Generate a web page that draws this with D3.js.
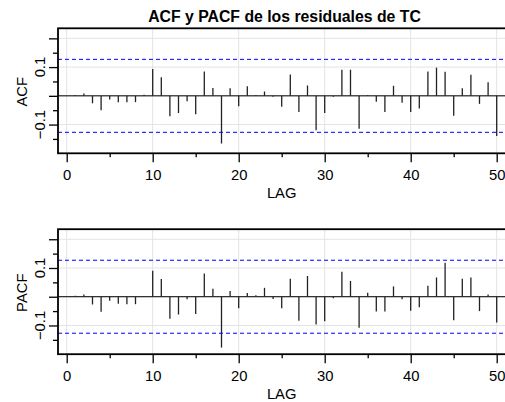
<!DOCTYPE html>
<html>
<head>
<meta charset="utf-8">
<script src="https://cdnjs.cloudflare.com/ajax/libs/d3/7.8.5/d3.min.js"></script>
<style>
body { margin: 0; background: #fff; }
svg { display: block; font-family: "Liberation Sans", Arial, Helvetica, sans-serif; }
</style>
</head>
<body>
<div id="chart"></div>
<script>
// lags 1..50
var lags = d3.range(1, 51);
var acfVals = [0.003, 0.008, -0.026, -0.05, -0.013, -0.022, -0.022, -0.022, 0.004, 0.093,
	0.065, -0.071, -0.06, -0.019, -0.064, 0.085, 0.027, -0.166, 0.026, -0.036,
	0.033, 0.003, 0.015, -0.003, -0.038, 0.074, -0.056, 0.036, -0.12, -0.06,
	-0.003, 0.091, 0.091, -0.115, 0.003, -0.021, -0.056, 0.035, -0.024, -0.056,
	-0.044, 0.085, 0.098, 0.084, -0.069, 0.026, 0.073, -0.028, 0.047, -0.14];
var pacfVals = [0.003, 0.008, -0.027, -0.052, -0.014, -0.024, -0.026, -0.026, 0.002, 0.09,
	0.062, -0.077, -0.062, -0.009, -0.06, 0.081, 0.028, -0.177, 0.02, -0.04,
	0.013, 0.005, 0.031, -0.008, -0.04, 0.063, -0.084, 0.072, -0.097, -0.085,
	-0.005, 0.087, 0.055, -0.108, 0.014, -0.051, -0.051, 0.036, -0.009, -0.049,
	-0.037, 0.038, 0.067, 0.118, -0.082, 0.063, 0.067, -0.05, 0.008, -0.09];
var confBand = 0.127;
var xTicks = d3.range(0, 51, 5);
var xLabels = [0, 10, 20, 30, 40, 50];
var yTicks = [-0.15, -0.1, -0.05, 0, 0.05, 0.1, 0.15, 0.2];
var yLabels = [-0.1, 0.1];
var yGrid = [-0.1, 0, 0.1, 0.2];

var W = 505, H = 402;
var left = 58, right = 510;

var svg = d3.select("#chart").append("svg")
	.attr("width", W)
	.attr("height", H);

var x = d3.scaleLinear().domain([0, 50]).range([66.7, 496.7]);

svg.append("text")
	.attr("x", 284.5)
	.attr("y", 21.5)
	.attr("text-anchor", "middle")
	.attr("font-weight", "bold")
	.attr("font-size", 15.8)
	.text("ACF y PACF de los residuales de TC");

function panel(top, vals, name){
	var bottom = top + 125;
	var y = d3.scaleLinear().domain([-0.2, 0.235]).range([bottom, top]);
	var g = svg.append("g");

	// grid
	g.selectAll(".vg").data(xLabels).enter().append("line")
		.attr("x1", function(d){ return x(d); })
		.attr("x2", function(d){ return x(d); })
		.attr("y1", top).attr("y2", bottom)
		.attr("stroke", "#e3e3e3").attr("stroke-width", 1);
	g.selectAll(".hg").data(yGrid).enter().append("line")
		.attr("x1", left).attr("x2", right)
		.attr("y1", function(d){ return y(d); })
		.attr("y2", function(d){ return y(d); })
		.attr("stroke", "#e3e3e3").attr("stroke-width", 1);

	// zero line
	g.append("line")
		.attr("x1", left).attr("x2", right)
		.attr("y1", y(0)).attr("y2", y(0))
		.attr("stroke", "#000").attr("stroke-width", 1);

	// bars
	g.selectAll(".bar").data(vals).enter().append("line")
		.attr("x1", function(d, i){ return x(lags[i]); })
		.attr("x2", function(d, i){ return x(lags[i]); })
		.attr("y1", y(0))
		.attr("y2", function(d){ return y(d); })
		.attr("stroke", "#222").attr("stroke-width", 1.3);

	// confidence bands
	[confBand, -confBand].forEach(function(c){
		g.append("line")
			.attr("x1", left).attr("x2", right)
			.attr("y1", y(c)).attr("y2", y(c))
			.attr("stroke", "#0000ff").attr("stroke-width", 1)
			.attr("stroke-dasharray", "4,3");
	});

	// frame
	g.append("rect")
		.attr("x", left).attr("y", top)
		.attr("width", right - left).attr("height", bottom - top)
		.attr("fill", "none").attr("stroke", "#000").attr("stroke-width", 1.8);

	// x axis
	var xa = g.append("g").attr("transform", "translate(0," + bottom + ")")
		.call(d3.axisBottom(x).tickValues(xTicks).tickSizeOuter(0)
			.tickFormat(function(d){ return d % 10 === 0 ? d : ""; }));
	xa.select(".domain").remove();
	xa.selectAll(".tick line")
		.attr("y2", function(d){ return d % 10 === 0 ? 9 : 4; })
		.attr("stroke", "#000").attr("stroke-width", 1.3);
	xa.selectAll(".tick text")
		.attr("y", 27).attr("dy", 0)
		.attr("font-size", 14.8)
		.attr("font-family", "Liberation Sans, Arial, sans-serif")
		.attr("fill", "#000");

	g.append("text")
		.attr("x", x(25)).attr("y", bottom + 44.5)
		.attr("text-anchor", "middle")
		.attr("font-size", 14.8)
		.text("LAG");

	// y axis
	var ya = g.append("g").attr("transform", "translate(" + left + ",0)")
		.call(d3.axisLeft(y).tickValues(yTicks).tickSizeOuter(0).tickFormat(""));
	ya.select(".domain").remove();
	ya.selectAll(".tick line")
		.attr("x2", function(d){ return Math.abs(Math.round(d * 100)) % 10 === 0 ? -9 : -5; })
		.attr("stroke", "#000").attr("stroke-width", 1.3);

	g.selectAll(".ylab").data(yLabels).enter().append("text")
		.attr("transform", function(d){ return "translate(45," + y(d) + ") rotate(-90)"; })
		.attr("text-anchor", "middle")
		.attr("font-size", 14.8)
		.text(function(d){ return d < 0 ? "\u2212" + Math.abs(d) : d; });

	g.append("text")
		.attr("transform", "translate(26.7," + ((top + bottom) / 2 + 1) + ") rotate(-90)")
		.attr("text-anchor", "middle")
		.attr("font-size", 14.8)
		.text(name);
}

panel(28.3, acfVals, "ACF");
panel(229.2, pacfVals, "PACF");
</script>
</body>
</html>
